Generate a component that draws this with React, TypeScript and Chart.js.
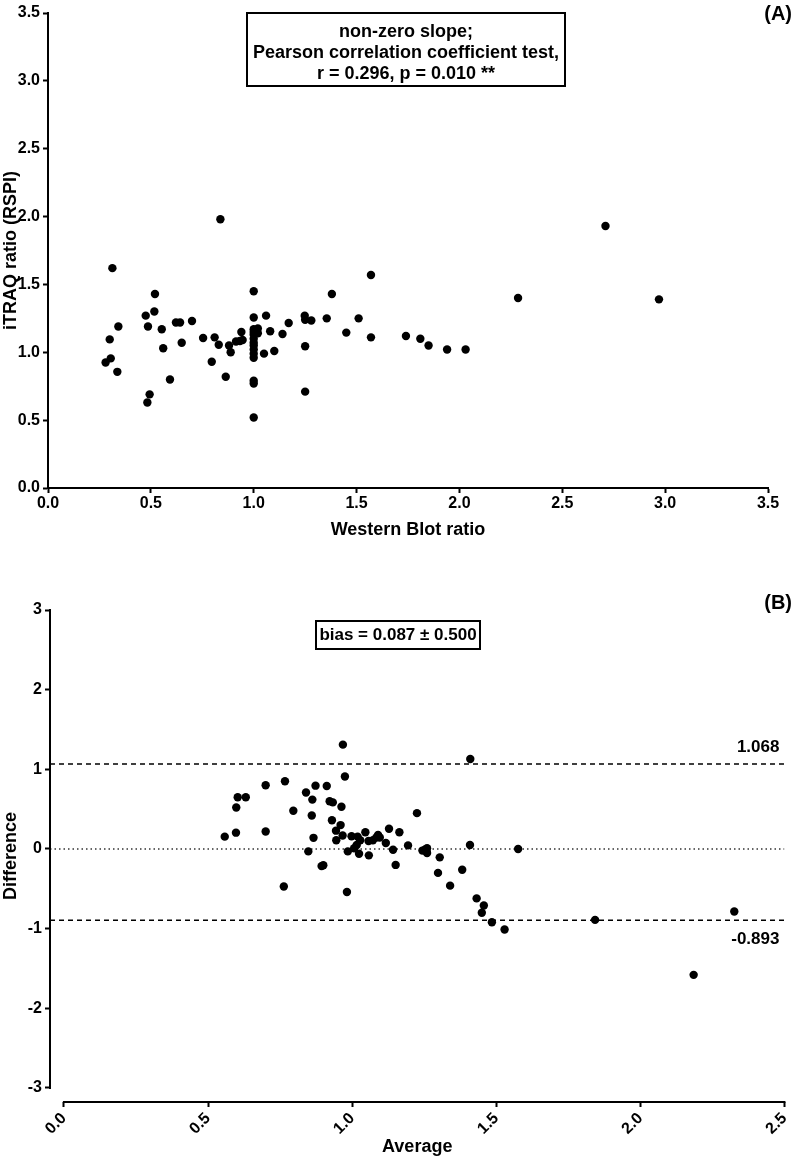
import React, { useEffect, useRef } from "react";
import { Chart, registerables } from "chart.js";

Chart.register(...registerables);

const FONT = "'Liberation Sans', Arial, Helvetica, sans-serif";

// ---------- Panel A data ----------
const westernBlotRatio = [
  0.28, 0.305, 0.3, 0.313, 0.337, 0.342, 0.475, 0.486, 0.517, 0.52, 0.483, 0.494,
  0.553, 0.56, 0.593, 0.622, 0.642, 0.65, 0.7, 0.754, 0.796, 0.81, 0.838, 0.83,
  0.864, 0.88, 0.888, 0.914, 0.933, 0.946, 0.94,
  1.0, 1.0, 1.0, 1.0, 1.0, 1.0, 1.0, 1.0, 1.0, 1.0, 1.0, 1.0, 1.0, 1.0,
  1.02, 1.02, 1.06, 1.08, 1.05, 1.1, 1.14, 1.17, 1.248, 1.25, 1.25, 1.25,
  1.28, 1.355, 1.38, 1.45, 1.51, 1.57, 1.57, 1.74, 1.81, 1.85, 1.94, 2.03,
  2.285, 2.71, 2.97,
];
const itraqRatio = [
  0.925, 0.955, 1.095, 1.62, 0.856, 1.19, 1.27, 1.19, 1.3, 1.43, 0.63, 0.69,
  1.17, 1.03, 0.8, 1.22, 1.22, 1.07, 1.23, 1.105, 0.93, 1.11, 1.98, 1.056,
  0.82, 1.05, 1.0, 1.08, 1.083, 1.09, 1.15,
  1.45, 1.256, 1.17, 1.15, 1.13, 1.1, 1.07, 1.05, 1.02, 0.99, 0.96, 0.79, 0.77, 0.52,
  1.175, 1.14, 1.27, 1.155, 0.99, 1.01, 1.135, 1.216, 1.27, 1.24, 1.045, 0.71,
  1.234, 1.25, 1.43, 1.145, 1.25, 1.57, 1.11, 1.12, 1.1, 1.05, 1.02, 1.02,
  1.4, 1.93, 1.39,
];
const panelATicks = [0, 0.5, 1, 1.5, 2, 2.5, 3, 3.5];
const panelANote = [
  "non-zero slope;",
  "Pearson correlation coefficient test,",
  "r = 0.296, p = 0.010 **",
];

// ---------- Panel B data ----------
const averageValues = [
  0.968, 0.975, 0.7, 0.767, 0.873, 0.912, 0.84, 0.862, 0.922, 0.933,
  0.963, 0.603, 0.631, 0.598, 0.796, 0.86, 0.93, 0.96, 1.225, 0.558,
  0.597, 0.7, 0.866, 0.944, 0.945, 0.967, 0.998, 1.019, 1.028, 1.046,
  0.985, 1.007, 1.016, 1.024, 1.058, 1.057, 1.072, 1.084, 1.096, 1.117,
  1.128, 1.142, 1.164, 1.194, 1.151, 0.848, 0.894, 0.9, 0.763, 0.982,
  1.252, 1.258, 1.244, 1.26, 1.26, 1.304, 1.298, 1.382, 1.34, 1.409,
  1.576, 1.432, 1.457, 1.45, 1.485, 1.529, 1.843, 2.326, 2.185, 1.41, 1.09,
];
const differenceValues = [
  1.31, 0.91, 0.8, 0.85, 0.795, 0.79, 0.71, 0.62, 0.6, 0.585,
  0.53, 0.65, 0.65, 0.52, 0.48, 0.42, 0.36, 0.3, 0.45, 0.155,
  0.205, 0.22, 0.14, 0.23, 0.11, 0.17, 0.16, 0.155, 0.11, 0.21,
  -0.03, 0.01, 0.05, -0.06, -0.08, 0.1, 0.11, 0.145, 0.145, 0.075,
  0.255, -0.01, 0.21, 0.045, -0.2, -0.03, -0.215, -0.205, -0.47, -0.54,
  -0.01, -0.03, -0.02, 0.01, -0.05, -0.105, -0.3, -0.26, -0.46, 0.05,
  0.0, -0.62, -0.71, -0.8, -0.92, -1.01, -0.89, -0.785, -1.58, 1.13, 0.175,
];
const upperLimit = 1.068;
const lowerLimit = -0.893;
const zeroLine = 0;
const panelBXTicks = [0, 0.5, 1, 1.5, 2, 2.5];
const panelBYTicks = [-3, -2, -1, 0, 1, 2, 3];
const panelBNote = "bias = 0.087 \u00b1 0.500";

const boldFont = (size: number) => ({ family: FONT, size, weight: "bold" as const, lineHeight: 1.2 });

function PanelA() {
  const ref = useRef<HTMLCanvasElement>(null);
  useEffect(() => {
    const notePlugin = {
      id: "noteA",
      afterDraw(chart: any) {
        const ctx = chart.ctx;
        ctx.save();
        ctx.strokeStyle = "#000";
        ctx.lineWidth = 2;
        ctx.strokeRect(247, 13, 318, 73);
        ctx.fillStyle = "#000";
        ctx.font = `bold 18px ${FONT}`;
        ctx.textAlign = "center";
        ctx.textBaseline = "middle";
        panelANote.forEach((t, i) => ctx.fillText(t, 406, 32 + i * 21));
        ctx.font = `bold 20px ${FONT}`;
        ctx.textAlign = "right";
        ctx.fillText("(A)", 792, 14);
        ctx.restore();
      },
    };
    const chart = new Chart(ref.current!, {
      type: "scatter",
      data: {
        datasets: [
          {
            data: westernBlotRatio.map((x, i) => ({ x, y: itraqRatio[i] })),
            backgroundColor: "#000",
            borderWidth: 0,
            pointRadius: 4.2,
          },
        ],
      },
      options: {
        responsive: false,
        animation: false,
        events: [],
        layout: { padding: { left: 0, top: 13, right: 32, bottom: 0 } },
        plugins: { legend: { display: false }, tooltip: { enabled: false } },
        scales: {
          x: {
            type: "linear",
            min: 0,
            max: 3.5,
            afterBuildTicks: (s: any) => {
              s.ticks = panelATicks.map((v) => ({ value: v }));
            },
            afterFit: (s: any) => {
              s.height = 57;
            },
            border: { display: true, color: "#000", width: 2 },
            grid: { display: true, drawOnChartArea: false, drawTicks: true, tickLength: 5, tickWidth: 2, tickColor: "#000" },
            ticks: { color: "#000", font: boldFont(16), padding: 1, maxRotation: 0, autoSkip: false, callback: (v: any) => Number(v).toFixed(1) },
            title: { display: true, text: "Western Blot ratio", color: "#000", font: boldFont(18), padding: { top: 0, bottom: 4 } },
          },
          y: {
            type: "linear",
            min: 0,
            max: 3.5,
            afterBuildTicks: (s: any) => {
              s.ticks = panelATicks.map((v) => ({ value: v }));
            },
            afterFit: (s: any) => {
              s.width = 48;
            },
            border: { display: true, color: "#000", width: 2 },
            grid: { display: true, drawOnChartArea: false, drawTicks: true, tickLength: 5, tickWidth: 2, tickColor: "#000" },
            ticks: { color: "#000", font: boldFont(16), padding: 3, autoSkip: false, callback: (v: any) => Number(v).toFixed(1) },
            title: { display: true, text: "iTRAQ ratio (RSPI)", color: "#000", font: boldFont(18), padding: { top: 0, bottom: 0 } },
          },
        },
      },
      plugins: [notePlugin],
    } as any);
    return () => chart.destroy();
  }, []);
  return <canvas ref={ref} width={800} height={545} style={{ display: "block" }} />;
}

function PanelB() {
  const ref = useRef<HTMLCanvasElement>(null);
  useEffect(() => {
    const decoPlugin = {
      id: "decoB",
      afterDraw(chart: any) {
        const ctx = chart.ctx;
        const xs = chart.scales.x;
        const ys = chart.scales.y;
        const area = chart.chartArea;
        ctx.save();
        ctx.strokeStyle = "#000";
        ctx.lineWidth = 2;
        ctx.beginPath();
        ctx.moveTo(area.left, ys.getPixelForValue(panelBYTicks[panelBYTicks.length - 1]) - 1);
        ctx.lineTo(area.left, ys.getPixelForValue(panelBYTicks[0]) + 1);
        ctx.stroke();
        ctx.beginPath();
        ctx.moveTo(xs.getPixelForValue(panelBXTicks[0]) - 1, area.bottom);
        ctx.lineTo(xs.getPixelForValue(panelBXTicks[panelBXTicks.length - 1]) + 1, area.bottom);
        ctx.stroke();

        ctx.fillStyle = "#000";
        ctx.font = `bold 17px ${FONT}`;
        ctx.textAlign = "right";
        ctx.textBaseline = "middle";
        const rightX = xs.getPixelForValue(2.5) - 5;
        ctx.fillText(upperLimit.toFixed(3), rightX, ys.getPixelForValue(upperLimit) - 17);
        ctx.fillText(lowerLimit.toFixed(3), rightX, ys.getPixelForValue(lowerLimit) + 19);

        ctx.font = `bold 20px ${FONT}`;
        ctx.fillText("(B)", 792, 58);

        ctx.lineWidth = 2;
        ctx.strokeRect(316, 76, 164, 28);
        ctx.font = `bold 17px ${FONT}`;
        ctx.textAlign = "center";
        ctx.fillText(panelBNote, 398, 90);
        ctx.restore();
      },
    };
    const xMin = -0.0483;
    const xMax = 2.5;
    const chart = new Chart(ref.current!, {
      type: "scatter",
      data: {
        datasets: [
          {
            data: averageValues.map((x, i) => ({ x, y: differenceValues[i] })),
            backgroundColor: "#000",
            borderWidth: 0,
            pointRadius: 4.2,
          },
          {
            type: "line",
            data: [{ x: xMin, y: upperLimit }, { x: xMax, y: upperLimit }],
            borderColor: "#000",
            borderWidth: 1.5,
            borderDash: [5, 4],
            pointRadius: 0,
          },
          {
            type: "line",
            data: [{ x: xMin, y: lowerLimit }, { x: xMax, y: lowerLimit }],
            borderColor: "#000",
            borderWidth: 1.5,
            borderDash: [5, 4],
            pointRadius: 0,
          },
          {
            type: "line",
            data: [{ x: xMin, y: zeroLine }, { x: xMax, y: zeroLine }],
            borderColor: "#333",
            borderWidth: 1.5,
            borderDash: [1.5, 3],
            pointRadius: 0,
          },
        ],
      },
      options: {
        responsive: false,
        animation: false,
        events: [],
        layout: { padding: { left: 0, top: 65, right: 12, bottom: 0 } },
        plugins: { legend: { display: false }, tooltip: { enabled: false } },
        scales: {
          x: {
            type: "linear",
            min: xMin,
            max: xMax,
            afterBuildTicks: (s: any) => {
              s.ticks = panelBXTicks.map((v) => ({ value: v }));
            },
            afterFit: (s: any) => {
              s.height = 56;
            },
            border: { display: false },
            grid: { display: true, drawOnChartArea: false, drawTicks: true, tickLength: 5, tickWidth: 2, tickColor: "#000" },
            ticks: { color: "#000", font: boldFont(16), padding: 2, minRotation: 45, maxRotation: 45, autoSkip: false, callback: (v: any) => Number(v).toFixed(1) },
            title: { display: true, text: "Average", color: "#000", font: boldFont(18), padding: { top: 0, bottom: 0 } },
          },
          y: {
            type: "linear",
            min: -3.176,
            max: 3,
            afterBuildTicks: (s: any) => {
              s.ticks = panelBYTicks.map((v) => ({ value: v }));
            },
            afterFit: (s: any) => {
              s.width = 50;
            },
            border: { display: false },
            grid: { display: true, drawOnChartArea: false, drawTicks: true, tickLength: 5, tickWidth: 2, tickColor: "#000" },
            ticks: { color: "#000", font: boldFont(16), padding: 3, autoSkip: false, callback: (v: any) => String(v) },
            title: { display: true, text: "Difference", color: "#000", font: boldFont(18), padding: { top: 0, bottom: 0 } },
          },
        },
      },
      plugins: [decoPlugin],
    } as any);
    return () => chart.destroy();
  }, []);
  return <canvas ref={ref} width={800} height={613} style={{ display: "block" }} />;
}

export default function App() {
  return (
    <div style={{ position: "absolute", left: 0, top: 0, width: 800, height: 1158, background: "#fff" }}>
      <PanelA />
      <PanelB />
    </div>
  );
}
